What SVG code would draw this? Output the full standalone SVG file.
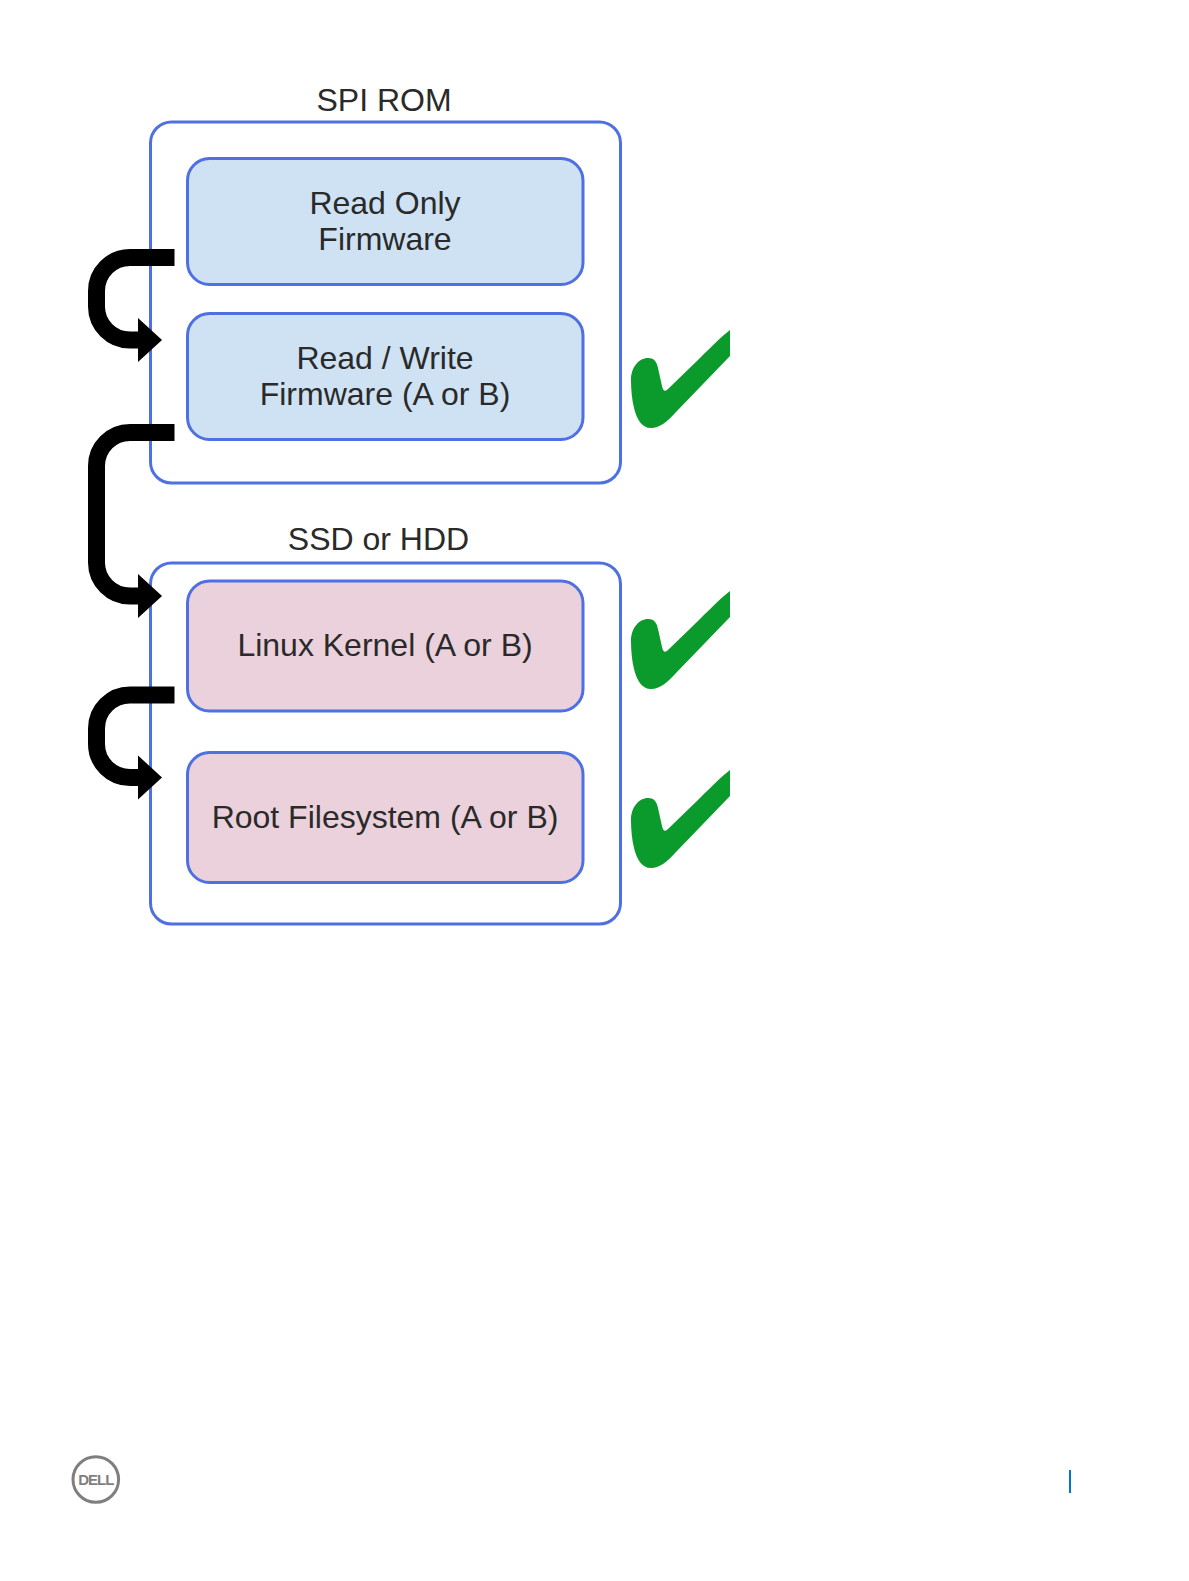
<svg xmlns="http://www.w3.org/2000/svg" width="1189" height="1581" viewBox="0 0 1189 1581">
<style>
text{font-family:"Liberation Sans",Arial,sans-serif;font-size:32px;fill:#2a2a2a;text-anchor:middle}
.outer{fill:#fff;stroke:#4f70e0;stroke-width:3}
.blue{fill:#cfe2f3;stroke:#4f70e0;stroke-width:3}
.pink{fill:#ead1dc;stroke:#4f70e0;stroke-width:3}
.conn{fill:none;stroke:#000;stroke-width:17}
.head{fill:#000}
.check{fill:#0a9b2c}
</style>
<defs>
<path id="tick" d="M631 380C631 367 639 358 648 358C655 358 657 363 658 368L662 386C663 391 665 392 668 389L700 358C712 346 722 336 730 330V356L676 412C668 421 660 428 651 428C642 428 637 420 634 408C632 400 631 390 631 380Z"/>
</defs>
<rect width="1189" height="1581" fill="#fff"/>
<g id="spi-rom"><rect class="outer" x="150.5" y="122" width="470" height="361" rx="21"/><text x="384" y="111">SPI ROM</text></g>
<g id="ssd-hdd"><rect class="outer" x="150.5" y="563" width="470" height="361" rx="21"/><text x="378.500" y="550">SSD or HDD</text></g>
<g id="read-only"><rect class="blue" x="187.500" y="158.500" width="395.500" height="126" rx="22"/><text x="385" y="214">Read Only</text><text x="385" y="250">Firmware</text></g>
<g id="read-write"><rect class="blue" x="187.500" y="313.500" width="395.500" height="126" rx="22"/><text x="385" y="369">Read / Write</text><text x="385" y="405">Firmware (A or B)</text></g>
<g id="linux-kernel"><rect class="pink" x="187.500" y="581" width="395.500" height="130" rx="22"/><text x="385" y="656">Linux Kernel (A or B)</text></g>
<g id="root-fs"><rect class="pink" x="187.500" y="752.500" width="395.500" height="130" rx="22"/><text x="385" y="828">Root Filesystem (A or B)</text></g>
<g id="connectors">
<path class="conn" d="M174.500 257.500H130A33.500 33.500 0 0 0 96.500 291V306.500A33.500 33.500 0 0 0 130 340H142"/>
<polygon class="head" points="138,318 162,340 138,362"/>
<path class="conn" d="M174.500 432.500H130A33.500 33.500 0 0 0 96.500 466V562.500A33.500 33.500 0 0 0 130 596H142"/>
<polygon class="head" points="138,574 162,596 138,618"/>
<path class="conn" d="M174.500 695H130A33.500 33.500 0 0 0 96.500 728.500V744A33.500 33.500 0 0 0 130 777.500H142"/>
<polygon class="head" points="138,755.500 162,777.500 138,799.500"/>
</g>
<g id="check-1"><use class="check" href="#tick"/></g>
<g id="check-2"><use class="check" href="#tick" y="261"/></g>
<g id="check-3"><use class="check" href="#tick" y="440"/></g>
<g id="dell-logo"><circle cx="95.800" cy="1479.500" r="22.800" fill="#fff" stroke="#7f7f7f" stroke-width="3"/><text x="95.800" y="1485" style="font-size:15px;font-weight:bold;fill:#7f7f7f;letter-spacing:-1px">DELL</text></g>
<line id="page-rule" x1="1070" y1="1470" x2="1070" y2="1493" stroke="#0076ce" stroke-width="2"/>
</svg>
